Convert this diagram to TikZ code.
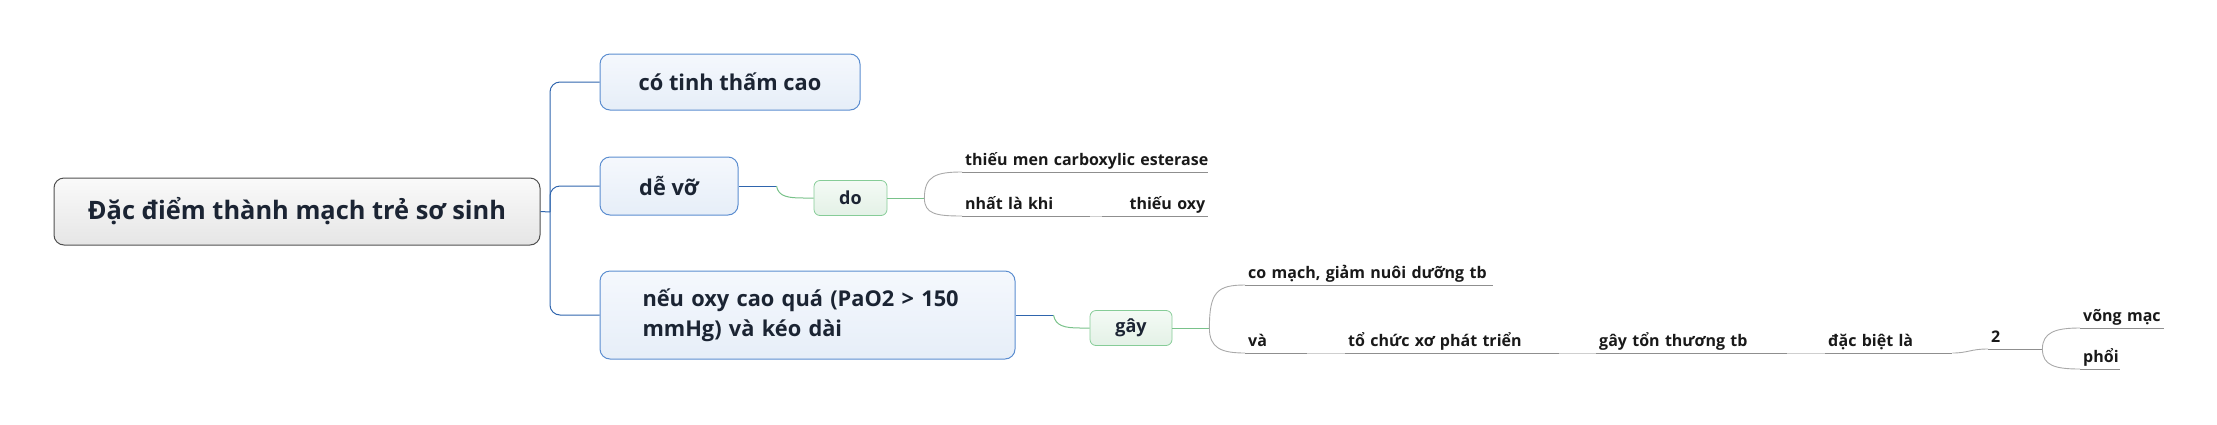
\documentclass[tikz,border=0pt]{standalone}
\usepackage{fontspec}
\setmainfont{Open Sans}

\definecolor{inkdark}{HTML}{1B2433}
\definecolor{rootedge}{HTML}{505050}
\definecolor{bluelink}{HTML}{2F65AD}
\definecolor{blueedge}{HTML}{5B8DD0}
\definecolor{bluetop}{HTML}{F5F8FD}
\definecolor{bluebot}{HTML}{E6EEF8}
\definecolor{greenlink}{HTML}{79C28A}
\definecolor{greenedge}{HTML}{86CC97}
\definecolor{greentop}{HTML}{F4FAF5}
\definecolor{greenbot}{HTML}{E3F1E6}
\definecolor{leafline}{HTML}{8F8F8F}
\definecolor{forkline}{HTML}{A9A9A9}
\definecolor{chainline}{HTML}{CFCFCF}

\begin{document}
\begin{tikzpicture}[x=1pt,y=-1pt,
    rootbox/.style={draw=rootedge,line width=1pt,rounded corners=10pt,
        top color=black!2,bottom color=black!10,text=inkdark,
        font=\fontsize{25.4}{30}\selectfont\bfseries,
        minimum width=486pt,minimum height=67pt},
    bluebox/.style={draw=blueedge,line width=1pt,rounded corners=10pt,
        top color=bluetop,bottom color=bluebot,text=inkdark,
        font=\fontsize{21.8}{30}\selectfont\bfseries,minimum height=#1},
    greenbox/.style={draw=greenedge,line width=0.8pt,rounded corners=6pt,
        top color=greentop,bottom color=greenbot,text=inkdark,
        font=\fontsize{18}{20}\selectfont\bfseries,minimum height=35pt},
    leaf/.style={anchor=south west,inner xsep=3pt,inner ysep=0pt,
        text width=#1,align=left,text depth=6pt,text=black!90,
        font=\fontsize{16}{18}\selectfont\bfseries,
        execute at begin node={\hbox\bgroup},execute at end node={\egroup},
        append after command={(\tikzlastnode.south west)
            edge[draw=leafline,line width=0.9pt] (\tikzlastnode.south east)}},
    bline/.style={draw=bluelink,line width=1pt},
    gline/.style={draw=greenlink,line width=1pt},
    fork/.style={draw=forkline,line width=0.9pt},
    chain/.style={draw=chainline,line width=0.9pt}]
\useasboundingbox (0,0) rectangle (2217,424);

% main topic and its three branches
\node[rootbox] (root) at (297,211.5) {Đặc điểm thành mạch trẻ sơ sinh};
\node[bluebox=56pt,minimum width=260pt] (perm) at (730,82) {có tinh thấm cao};
\node[bluebox=58pt,minimum width=138pt] (frail) at (669,186) {dễ vỡ};
\node[bluebox=88pt,minimum width=415pt,text width=330pt,align=left] (oxy)
    at (807.5,315) {nếu oxy cao quá (PaO2 > 150\\mmHg) và kéo dài};

\coordinate (trunk) at (550,212);
\draw[bline] (root.east) -- (trunk);
\draw[bline,rounded corners=10pt] (perm.west) -| (trunk) |- (oxy.west);
\draw[bline,rounded corners=10pt] (trunk) |- (frail.west);

% "do" branch
\node[greenbox,minimum width=73pt] (due) at (850.5,198) {do};
\draw[bline] (frail.east) -- ++(38,0) coordinate (k1);
\draw[gline] (k1) .. controls +(2,11) and +(-16,0) .. ++(28,12) -- (due.west);

\node[leaf=240pt] (l1) at (962,172) {thiếu men carboxylic esterase};
\node[leaf=122pt] (l2) at (962,216) {nhất là khi};
\node[leaf=100pt,align=right] (l3) at (1102,216) {thiếu oxy};

\draw[gline] (due.east) -- ++(37,0) coordinate (f1);
\draw[fork] (f1) .. controls +(0,-22) and +(-26,0) .. (l1.south west);
\draw[fork] (f1) .. controls +(0,16) and +(-26,0) .. (l2.south west);
\draw[chain] (l2.south east) -- (l3.south west);

% "gây" branch
\node[greenbox,minimum width=82pt] (cause) at (1131,328) {gây};
\draw[bline] (oxy.east) -- ++(38,0) coordinate (k2);
\draw[gline] (k2) .. controls +(2,11) and +(-16,0) .. ++(27,13) -- (cause.west);

\node[leaf=242pt] (l4) at (1245,285) {co mạch, giảm nuôi dưỡng tb};
\node[leaf=56pt] (l5) at (1245,353) {và};
\node[leaf=208pt] (l6) at (1345,353) {tổ chức xơ phát triển};
\node[leaf=185pt] (l7) at (1596,353) {gây tổn thương tb};
\node[leaf=121pt] (l8) at (1825,353) {đặc biệt là};
\node[leaf=48pt] (l9) at (1988,349) {2};
\node[leaf=78pt] (l10) at (2080,328) {võng mạc};
\node[leaf=34pt] (l11) at (2080,369) {phổi};

\draw[gline] (cause.east) -- ++(37,0) coordinate (f2);
\draw[fork] (f2) .. controls +(0,-36) and +(-28,0) .. (l4.south west);
\draw[fork] (f2) .. controls +(0,20) and +(-24,0) .. (l5.south west);
\draw[chain] (l5.south east) -- (l6.south west);
\draw[chain] (l6.south east) -- (l7.south west);
\draw[chain] (l7.south east) -- (l8.south west);
\draw[fork] (l8.south east) .. controls +(16,0) and +(-18,0) .. (l9.south west);
\draw[fork] (l9.south east) .. controls +(0,-17) and +(-24,0) .. (l10.south west);
\draw[fork] (l9.south east) .. controls +(0,17) and +(-24,0) .. (l11.south west);
\end{tikzpicture}
\end{document}
